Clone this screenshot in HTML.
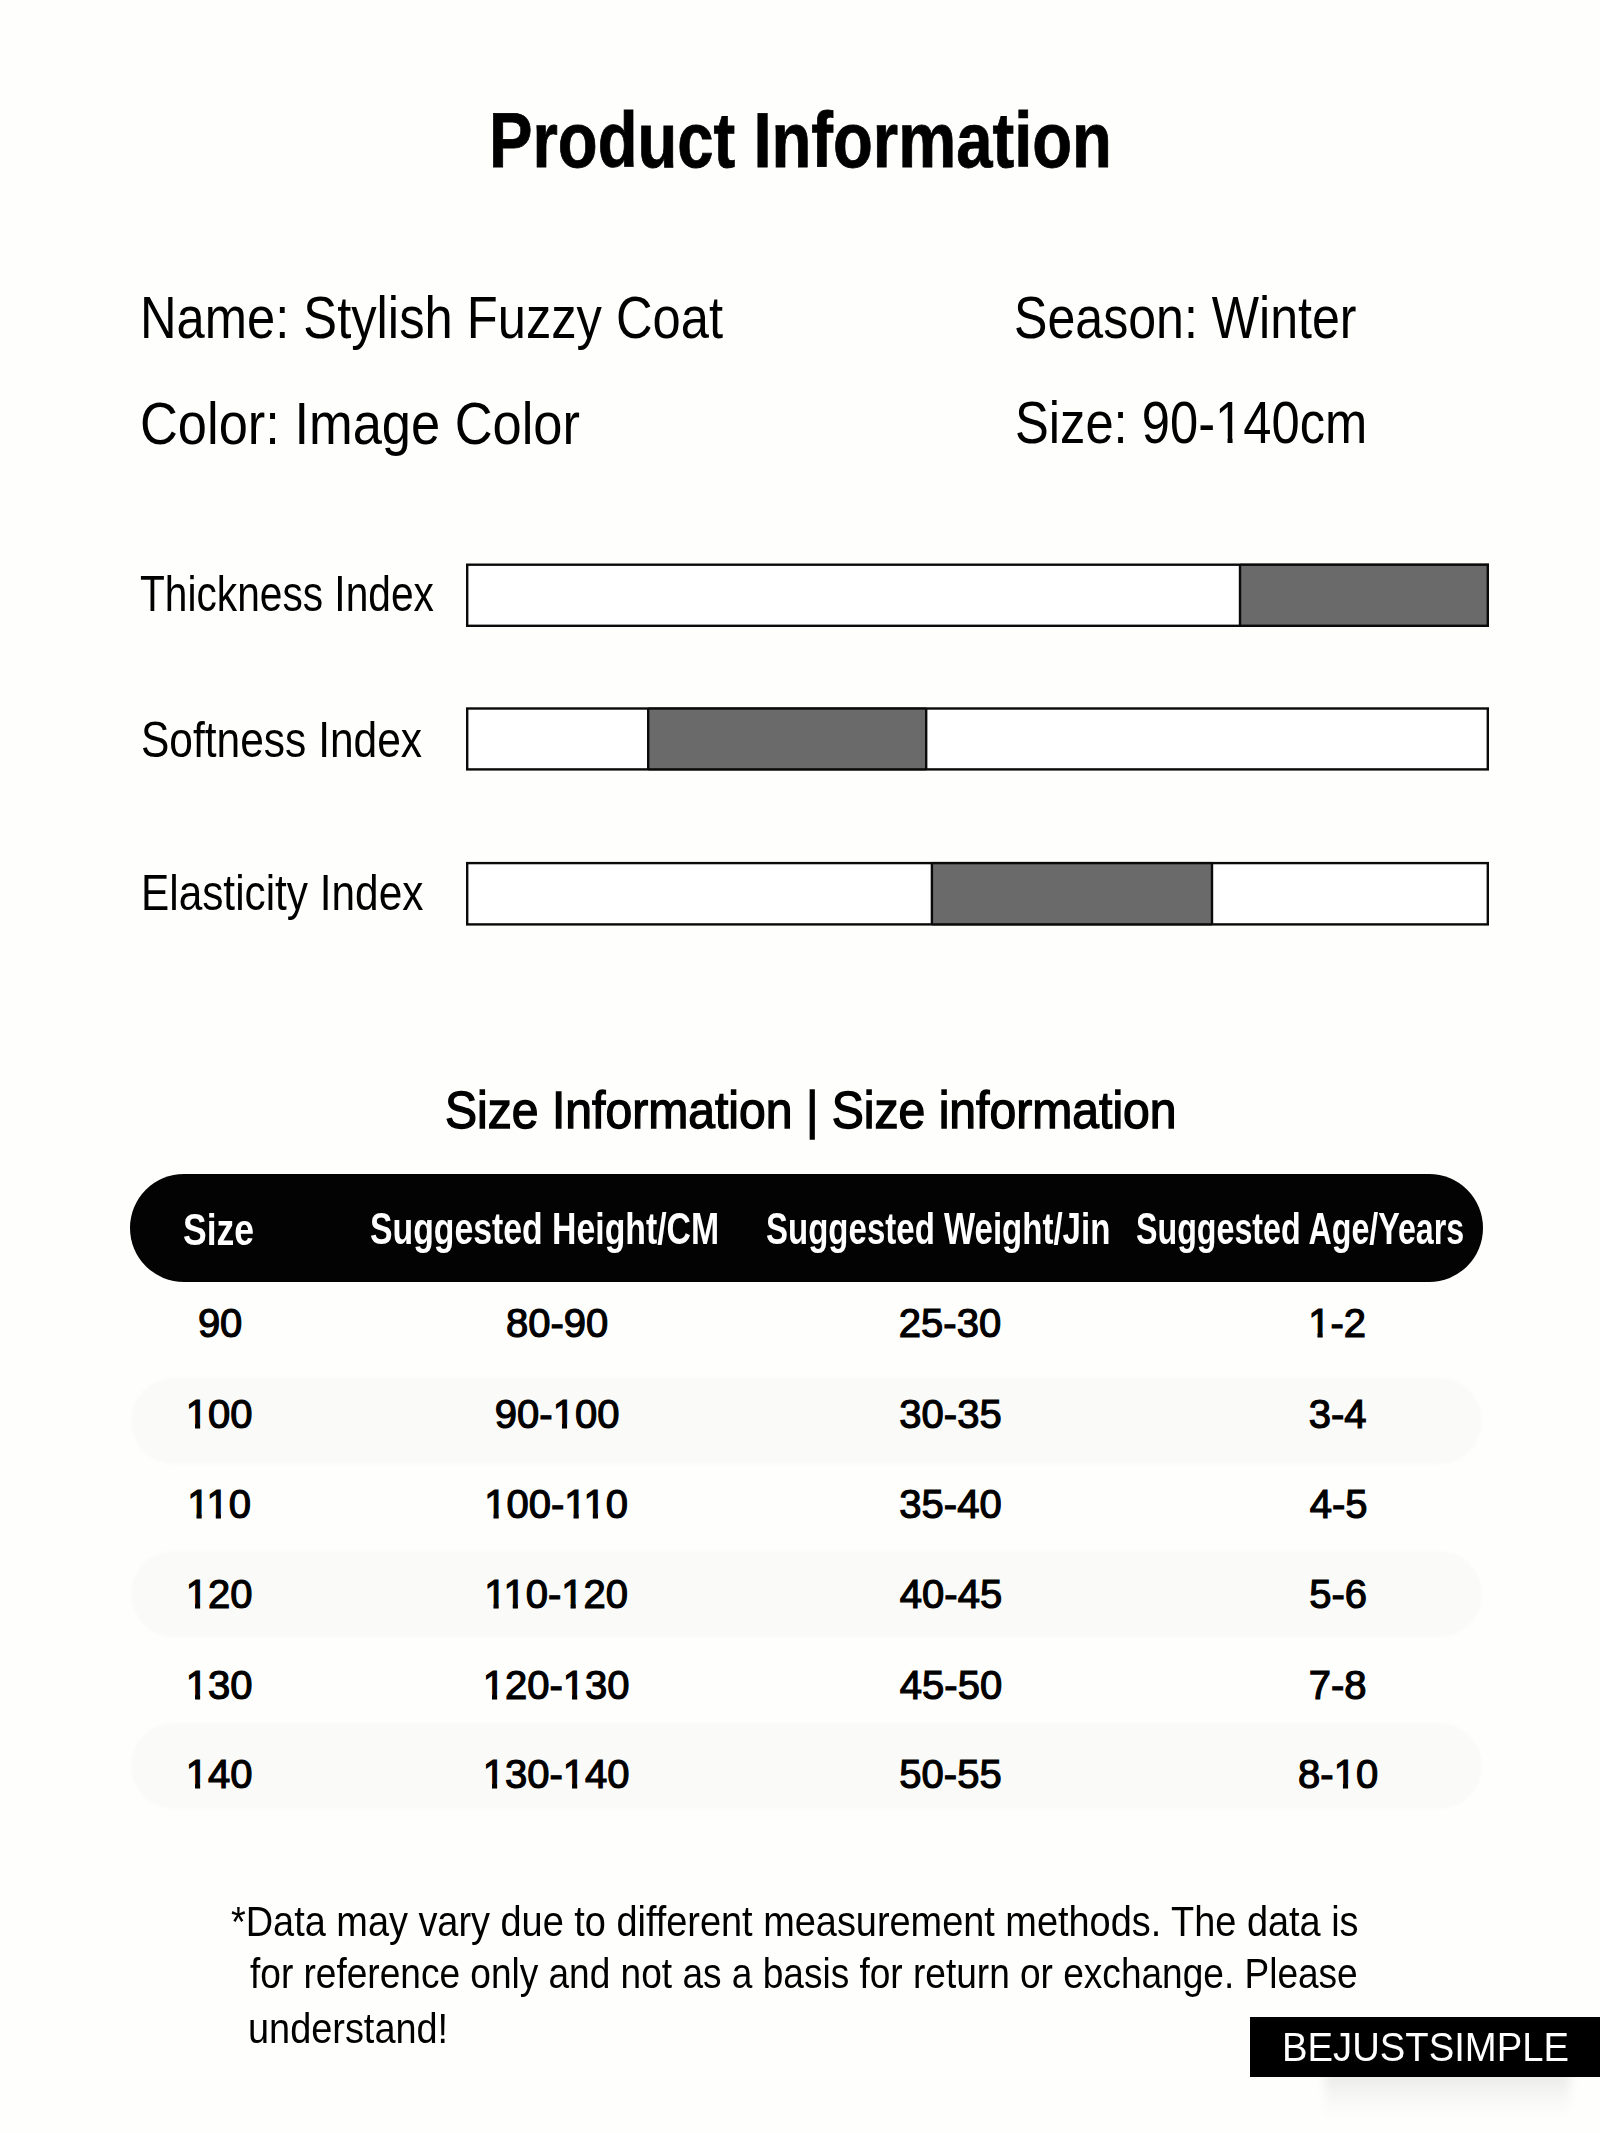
<!DOCTYPE html>
<html><head><meta charset="utf-8"><style>
html,body{margin:0;padding:0;}
body{width:1600px;height:2133px;background:#fefefd;position:relative;overflow:hidden;font-family:"Liberation Sans",sans-serif;}
.t{position:absolute;white-space:nowrap;transform-origin:0 0;}
.bars{position:absolute;left:0;top:0;}
.one60{clip-path:polygon(0 0,100% 0,100% 49px,20.7px 49px,20.7px 100%,14.8px 100%,14.8px 49px,0 49px);}
.one{clip-path:polygon(0 0,100% 0,100% 32px,14.4px 32px,14.4px 100%,9.3px 100%,9.3px 32px,0 32px);}
.pill{position:absolute;left:130px;top:1174px;width:1353px;height:108px;border-radius:54px;background:#030303;}
.stripe{position:absolute;left:131px;width:1351px;height:86px;border-radius:43px;background:#fafaf8;filter:blur(0.8px);}
.wm{position:absolute;left:1250px;top:2017px;width:350px;height:60px;background:#000;}
.wmsh{position:absolute;left:1325px;top:2072px;width:245px;height:45px;background:linear-gradient(rgba(0,0,0,0.085),rgba(0,0,0,0.03) 50%,rgba(0,0,0,0));filter:blur(5px);}
</style></head><body>
<svg class="bars" width="1600" height="1000" viewBox="0 0 1600 1000"><rect x="467.2" y="564.7" width="1020.6" height="61.1" fill="#fff" stroke="none"/><rect x="1240" y="563.5" width="249" height="63.5" fill="#6a6a6a"/><line x1="1240" y1="564.7" x2="1240" y2="625.8" stroke="#0a0a0a" stroke-width="2.4"/><rect x="467.2" y="564.7" width="1020.6" height="61.1" fill="none" stroke="#0a0a0a" stroke-width="2.4"/><rect x="467.2" y="708.5" width="1020.6" height="60.90000000000007" fill="#fff" stroke="none"/><rect x="648.2" y="707.3" width="278.0" height="63.30000000000007" fill="#6a6a6a"/><line x1="648.2" y1="708.5" x2="648.2" y2="769.4" stroke="#0a0a0a" stroke-width="2.4"/><line x1="926.2" y1="708.5" x2="926.2" y2="769.4" stroke="#0a0a0a" stroke-width="2.4"/><rect x="467.2" y="708.5" width="1020.6" height="60.90000000000007" fill="none" stroke="#0a0a0a" stroke-width="2.4"/><rect x="467.2" y="863.1" width="1020.6" height="61.30000000000005" fill="#fff" stroke="none"/><rect x="931.9" y="861.9" width="280.1" height="63.700000000000045" fill="#6a6a6a"/><line x1="931.9" y1="863.1" x2="931.9" y2="924.4" stroke="#0a0a0a" stroke-width="2.4"/><line x1="1212" y1="863.1" x2="1212" y2="924.4" stroke="#0a0a0a" stroke-width="2.4"/><rect x="467.2" y="863.1" width="1020.6" height="61.30000000000005" fill="none" stroke="#0a0a0a" stroke-width="2.4"/></svg>
<div class="pill"></div>
<div class="stripe" style="top:1378px;"></div><div class="stripe" style="top:1550.5px;"></div><div class="stripe" style="top:1723px;"></div>
<div class="wmsh"></div>
<div class="wm"></div>
<div class="t" style="left:489.17px;top:101.50px;font-size:77px;line-height:77px;font-weight:700;color:#000;transform:scaleX(0.8466);-webkit-text-stroke:0.8px #000;">Product Information</div>
<div class="t" style="left:140.12px;top:288.00px;font-size:60px;line-height:60px;font-weight:400;color:#000;transform:scaleX(0.8448);">Name: Stylish Fuzzy Coat</div>
<div class="t" style="left:1014.33px;top:287.50px;font-size:60px;line-height:60px;font-weight:400;color:#000;transform:scaleX(0.8350);">Season: Winter</div>
<div class="t" style="left:139.88px;top:393.50px;font-size:60px;line-height:60px;font-weight:400;color:#000;transform:scaleX(0.8738);">Color: Image Color</div>
<div class="t" style="left:1015.31px;top:392.50px;font-size:60px;line-height:60px;font-weight:400;color:#000;transform:scaleX(0.8449);">Size: 90-<span class="one60">1</span>40cm</div>
<div class="t" style="left:140.19px;top:568.60px;font-size:50px;line-height:50px;font-weight:400;color:#000;transform:scaleX(0.8133);">Thickness Index</div>
<div class="t" style="left:140.70px;top:715.40px;font-size:50px;line-height:50px;font-weight:400;color:#000;transform:scaleX(0.8499);">Softness Index</div>
<div class="t" style="left:141.21px;top:867.70px;font-size:50px;line-height:50px;font-weight:400;color:#000;transform:scaleX(0.8468);">Elasticity Index</div>
<div class="t" style="left:445.15px;top:1083.50px;font-size:52px;line-height:52px;font-weight:400;color:#000;transform:scaleX(0.9249);-webkit-text-stroke:1.4px #000;">Size Information | Size information</div>
<div class="t" style="left:182.71px;top:1206.50px;font-size:45px;line-height:45px;font-weight:700;color:#fff;transform:scaleX(0.7896);">Size</div>
<div class="t" style="left:370.25px;top:1205.50px;font-size:45px;line-height:45px;font-weight:700;color:#fff;transform:scaleX(0.7508);">Suggested Height/CM</div>
<div class="t" style="left:766.27px;top:1205.50px;font-size:45px;line-height:45px;font-weight:700;color:#fff;transform:scaleX(0.7338);">Suggested Weight/Jin</div>
<div class="t" style="left:1136.28px;top:1206.00px;font-size:45px;line-height:45px;font-weight:700;color:#fff;transform:scaleX(0.7159);">Suggested Age/Years</div>
<div class="t" style="left:197.88px;top:1303.00px;font-size:40px;line-height:40px;font-weight:400;color:#000;transform:scaleX(1.0000);-webkit-text-stroke:1.2px #000;">90</div>
<div class="t" style="left:505.97px;top:1303.00px;font-size:40px;line-height:40px;font-weight:400;color:#000;transform:scaleX(1.0000);-webkit-text-stroke:1.2px #000;">80-90</div>
<div class="t" style="left:898.87px;top:1303.00px;font-size:40px;line-height:40px;font-weight:400;color:#000;transform:scaleX(1.0000);-webkit-text-stroke:1.2px #000;">25-30</div>
<div class="t" style="left:1308.22px;top:1303.00px;font-size:40px;line-height:40px;font-weight:400;color:#000;transform:scaleX(1.0000);-webkit-text-stroke:1.2px #000;"><span class="one">1</span>-2</div>
<div class="t" style="left:185.75px;top:1394.00px;font-size:40px;line-height:40px;font-weight:400;color:#000;transform:scaleX(1.0000);-webkit-text-stroke:1.2px #000;"><span class="one">1</span>00</div>
<div class="t" style="left:494.85px;top:1394.00px;font-size:40px;line-height:40px;font-weight:400;color:#000;transform:scaleX(1.0000);-webkit-text-stroke:1.2px #000;">90-<span class="one">1</span>00</div>
<div class="t" style="left:899.37px;top:1394.00px;font-size:40px;line-height:40px;font-weight:400;color:#000;transform:scaleX(1.0000);-webkit-text-stroke:1.2px #000;">30-35</div>
<div class="t" style="left:1308.72px;top:1394.00px;font-size:40px;line-height:40px;font-weight:400;color:#000;transform:scaleX(1.0000);-webkit-text-stroke:1.2px #000;">3-4</div>
<div class="t" style="left:187.24px;top:1484.00px;font-size:40px;line-height:40px;font-weight:400;color:#000;transform:scaleX(1.0000);-webkit-text-stroke:1.2px #000;"><span class="one">1</span><span class="one">1</span>0</div>
<div class="t" style="left:484.21px;top:1484.00px;font-size:40px;line-height:40px;font-weight:400;color:#000;transform:scaleX(1.0000);-webkit-text-stroke:1.2px #000;"><span class="one">1</span>00-<span class="one">1</span><span class="one">1</span>0</div>
<div class="t" style="left:899.37px;top:1484.00px;font-size:40px;line-height:40px;font-weight:400;color:#000;transform:scaleX(1.0000);-webkit-text-stroke:1.2px #000;">35-40</div>
<div class="t" style="left:1309.72px;top:1484.00px;font-size:40px;line-height:40px;font-weight:400;color:#000;transform:scaleX(1.0000);-webkit-text-stroke:1.2px #000;">4-5</div>
<div class="t" style="left:185.75px;top:1574.00px;font-size:40px;line-height:40px;font-weight:400;color:#000;transform:scaleX(1.0000);-webkit-text-stroke:1.2px #000;"><span class="one">1</span>20</div>
<div class="t" style="left:484.21px;top:1574.00px;font-size:40px;line-height:40px;font-weight:400;color:#000;transform:scaleX(1.0000);-webkit-text-stroke:1.2px #000;"><span class="one">1</span><span class="one">1</span>0-<span class="one">1</span>20</div>
<div class="t" style="left:899.87px;top:1574.00px;font-size:40px;line-height:40px;font-weight:400;color:#000;transform:scaleX(1.0000);-webkit-text-stroke:1.2px #000;">40-45</div>
<div class="t" style="left:1309.22px;top:1574.00px;font-size:40px;line-height:40px;font-weight:400;color:#000;transform:scaleX(1.0000);-webkit-text-stroke:1.2px #000;">5-6</div>
<div class="t" style="left:185.75px;top:1664.50px;font-size:40px;line-height:40px;font-weight:400;color:#000;transform:scaleX(1.0000);-webkit-text-stroke:1.2px #000;"><span class="one">1</span>30</div>
<div class="t" style="left:482.72px;top:1664.50px;font-size:40px;line-height:40px;font-weight:400;color:#000;transform:scaleX(1.0000);-webkit-text-stroke:1.2px #000;"><span class="one">1</span>20-<span class="one">1</span>30</div>
<div class="t" style="left:899.87px;top:1664.50px;font-size:40px;line-height:40px;font-weight:400;color:#000;transform:scaleX(1.0000);-webkit-text-stroke:1.2px #000;">45-50</div>
<div class="t" style="left:1308.72px;top:1664.50px;font-size:40px;line-height:40px;font-weight:400;color:#000;transform:scaleX(1.0000);-webkit-text-stroke:1.2px #000;">7-8</div>
<div class="t" style="left:185.75px;top:1753.50px;font-size:40px;line-height:40px;font-weight:400;color:#000;transform:scaleX(1.0000);-webkit-text-stroke:1.2px #000;"><span class="one">1</span>40</div>
<div class="t" style="left:482.72px;top:1753.50px;font-size:40px;line-height:40px;font-weight:400;color:#000;transform:scaleX(1.0000);-webkit-text-stroke:1.2px #000;"><span class="one">1</span>30-<span class="one">1</span>40</div>
<div class="t" style="left:899.37px;top:1753.50px;font-size:40px;line-height:40px;font-weight:400;color:#000;transform:scaleX(1.0000);-webkit-text-stroke:1.2px #000;">50-55</div>
<div class="t" style="left:1298.09px;top:1753.50px;font-size:40px;line-height:40px;font-weight:400;color:#000;transform:scaleX(1.0000);-webkit-text-stroke:1.2px #000;">8-<span class="one">1</span>0</div>
<div class="t" style="left:230.50px;top:1900.75px;font-size:42px;line-height:42px;font-weight:400;color:#000;transform:scaleX(0.9022);">*Data may vary due to different measurement methods. The data is</div>
<div class="t" style="left:249.50px;top:1952.90px;font-size:42px;line-height:42px;font-weight:400;color:#000;transform:scaleX(0.8819);">for reference only and not as a basis for return or exchange. Please</div>
<div class="t" style="left:247.70px;top:2007.50px;font-size:42px;line-height:42px;font-weight:400;color:#000;transform:scaleX(0.9022);">understand!</div>
<div class="t" style="left:1282.13px;top:2027.25px;font-size:40px;line-height:40px;font-weight:400;color:#fff;transform:scaleX(0.9563);">BEJUSTSIMPLE</div>
</body></html>
